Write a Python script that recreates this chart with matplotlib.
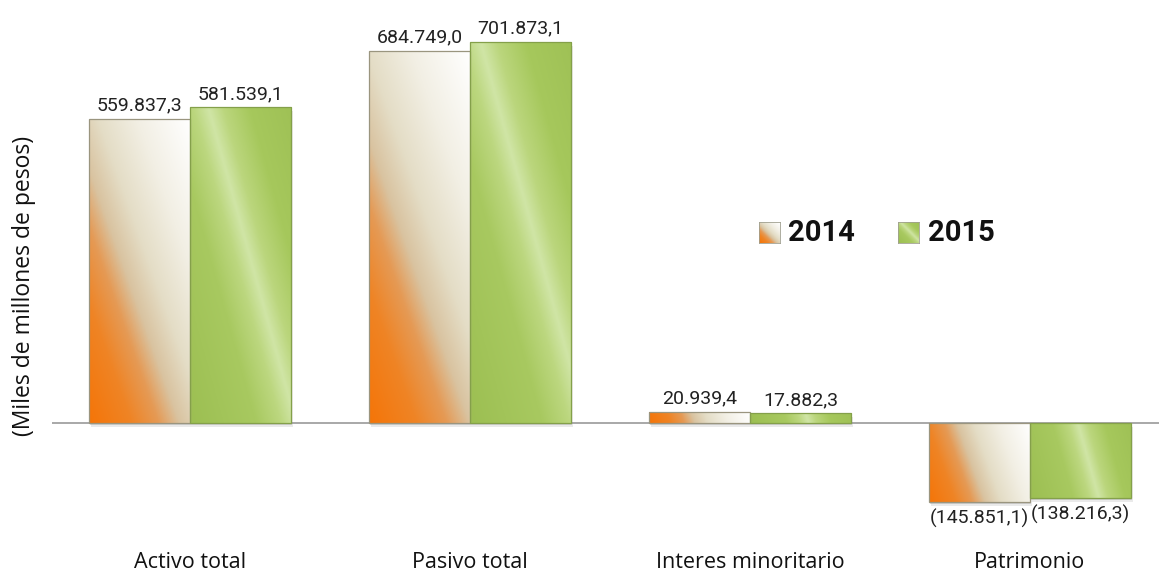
import matplotlib
matplotlib.use("Agg")
import matplotlib.pyplot as plt
import numpy as np
from matplotlib.colors import LinearSegmentedColormap
from matplotlib.patches import Rectangle
from matplotlib.transforms import blended_transform_factory, ScaledTranslation

categories = ["Activo total", "Pasivo total", "Interes minoritario", "Patrimonio"]
values_2014 = [559837.3, 684749.0, 20939.4, -145851.1]
values_2015 = [581539.1, 701873.1, 17882.3, -138216.3]
labels_2014 = ["559.837,3", "684.749,0", "20.939,4", "(145.851,1)"]
labels_2015 = ["581.539,1", "701.873,1", "17.882,3", "(138.216,3)"]
years = ["2014", "2015"]

W, H = 1159, 571
DPI = 100

cmap_2014 = LinearSegmentedColormap.from_list("c2014", [
    (0.0, "#F57508"), (0.2, "#EF8425"), (0.33, "#E59A55"),
    (0.43, "#D9C3A0"), (0.56, "#E4DDC6"), (0.75, "#F2EFE4"), (1.0, "#FFFFFF")])
cmap_2015 = LinearSegmentedColormap.from_list("c2015", [
    (0.0, "#9CBF52"), (0.35, "#A8C960"), (0.48, "#BCD77F"),
    (0.56, "#D0E5A6"), (0.64, "#BBD67D"), (0.78, "#A6C85C"), (1.0, "#9FC156")])
slope = {"2014": 2.8, "2015": 3.6}


def px(x):
    return x / W


def py(y):
    # y measured from the top of the picture
    return 1 - y / H


fig = plt.figure(figsize=(W / DPI, H / DPI), dpi=DPI)
ax = fig.add_axes([px(52), py(520), px(1159 - 52), (520 - 10) / H])

# zero line at 423 px, about 1841.6 per pixel
scale = 1841.6
ax.set_ylim(-(520 - 423) * scale, (423 - 10) * scale)
ax.set_xlim(-138 / 280, 3 + 129 / 280)
ax.axis("off")

ax.axhline(0, color="#9a9a9a", lw=1.2, zorder=1)

bw = 0.362
x = np.arange(len(categories))


def gradient_bar(x0, val, cmap, k, edge):
    y0, y1 = min(0, val), max(0, val)
    p0 = ax.transData.transform((x0, y0))
    p1 = ax.transData.transform((x0 + bw, y1))
    wpx = p1[0] - p0[0]
    hpx = p1[1] - p0[1]
    nx, ny = 80, max(int(hpx / 2), 6)
    u = np.linspace(0, wpx, nx)[None, :]
    v = np.linspace(0, hpx, ny)[:, None]
    t = (k * u + v) / (k * wpx + hpx)
    # soft shadow
    for dx, dy, a in [(1, -2, 0.25), (2, -4, 0.15)]:
        sh = Rectangle((x0, y0), bw, y1 - y0, facecolor="#777777", alpha=a,
                       edgecolor="none", zorder=2)
        sh.set_transform(ax.transData + ScaledTranslation(dx / DPI, dy / DPI, fig.dpi_scale_trans))
        ax.add_patch(sh)
    rect = Rectangle((x0, y0), bw, y1 - y0, facecolor="none",
                     edgecolor=edge, lw=0.9, zorder=4)
    ax.add_patch(rect)
    im = ax.imshow(t, cmap=cmap, vmin=0, vmax=1, origin="lower",
                   extent=(x0, x0 + bw, y0, y1), aspect="auto",
                   interpolation="bilinear", zorder=3)
    im.set_clip_path(rect)


for i in range(len(categories)):
    gradient_bar(x[i] - bw, values_2014[i], cmap_2014, slope["2014"], "#9a957f")
    gradient_bar(x[i], values_2015[i], cmap_2015, slope["2015"], "#84A04A")
    for xc, val, lab in [(x[i] - bw / 2, values_2014[i], labels_2014[i]),
                         (x[i] + bw / 2, values_2015[i], labels_2015[i])]:
        if val >= 0:
            ax.annotate(lab, (xc, val), xytext=(0, 6), textcoords="offset points",
                        ha="center", va="baseline", fontsize=14,
                        family="Roboto", color="#222222", zorder=5)
        else:
            ax.annotate(lab, (xc, val), xytext=(0, -5), textcoords="offset points",
                        ha="center", va="top", fontsize=14,
                        family="Roboto", color="#222222", zorder=5)

trans = blended_transform_factory(ax.transData, fig.transFigure)
for i, c in enumerate(categories):
    ax.text(x[i], py(568), c, transform=trans, ha="center", va="baseline",
            fontsize=15.5, family="Open Sans", color="#111111")

fig.text(px(24), py(286), "(Miles de millones de pesos)", rotation=90,
         ha="center", va="center", fontsize=16.5, family="Open Sans",
         color="#111111")

# legend
for (sx, tx, yr, cm) in [(759, 788, years[0], cmap_2014), (898, 928, years[1], cmap_2015)]:
    lax = fig.add_axes([px(sx), py(243), px(21), 21 / H])
    uu = np.linspace(0, 1, 20)[None, :]
    vv = np.linspace(0, 1, 20)[:, None]
    lax.imshow((uu + vv) / 2, cmap=cm, vmin=0, vmax=1, origin="lower",
               aspect="auto", interpolation="bilinear")
    lax.set_xticks([])
    lax.set_yticks([])
    for s in lax.spines.values():
        s.set_color("#a0a090")
        s.set_linewidth(0.6)
    fig.text(px(tx), py(233), yr, ha="left", va="center", fontsize=21,
             fontweight="bold", family="Roboto", color="#111111")

fig.savefig("out.png", dpi=DPI)
